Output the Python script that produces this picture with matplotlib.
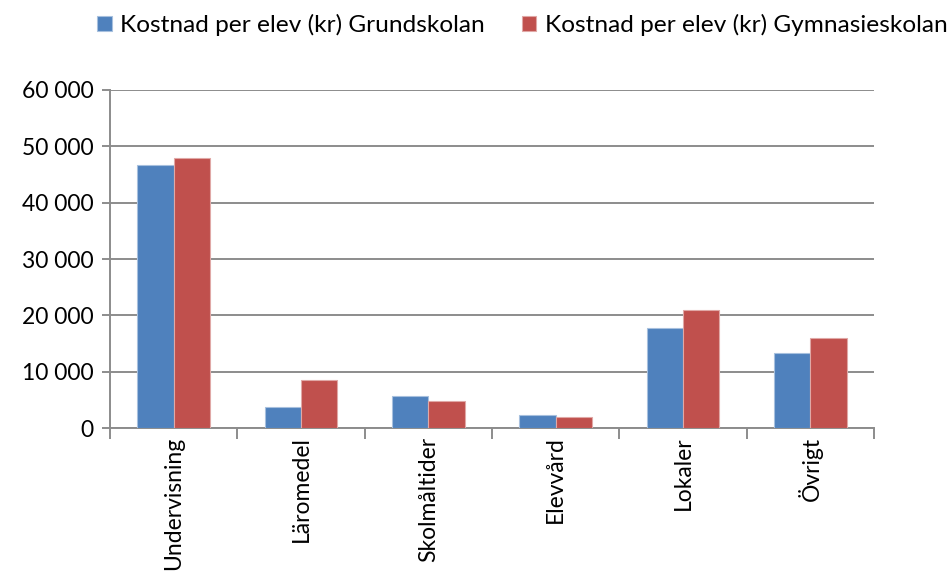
import matplotlib
matplotlib.use("Agg")
import matplotlib.pyplot as plt
import numpy as np
from matplotlib.ticker import FuncFormatter

categories = ["Undervisning", "Läromedel", "Skolmåltider", "Elevvård", "Lokaler", "Övrigt"]
grundskolan = [46600, 3800, 5750, 2300, 17800, 13300]
gymnasieskolan = [47900, 8450, 4800, 1870, 20900, 15900]
series_names = ["Kostnad per elev (kr) Grundskolan", "Kostnad per elev (kr) Gymnasieskolan"]
yticks = [0, 10000, 20000, 30000, 40000, 50000, 60000]

plt.rcParams['font.family'] = ['Lato', 'DejaVu Sans']
fig = plt.figure(figsize=(9.47, 5.84), dpi=100)
ax = fig.add_axes([0.1162, 0.2671, 0.8067, 0.5788])

x = np.arange(len(categories))
w = 0.285
blue = "#4F81BD"
red = "#C0504D"
b1 = ax.bar(x - w/2, grundskolan, w, color=blue, edgecolor="#A7C0DE", linewidth=0.8, zorder=3, label=series_names[0])
b2 = ax.bar(x + w/2, gymnasieskolan, w, color=red, edgecolor="#E0A8A6", linewidth=0.8, zorder=3, label=series_names[1])

ax.set_xlim(-0.5, len(categories) - 0.5)
ax.set_ylim(0, 60000)
ax.set_yticks(yticks)
ax.yaxis.set_major_formatter(FuncFormatter(lambda v, p: f"{int(v):,}".replace(",", " ")))
ax.grid(axis='y', color="#8C8C8C", linewidth=1.4, zorder=0)

for s in ['top', 'right']:
    ax.spines[s].set_visible(False)
for s in ['left', 'bottom']:
    ax.spines[s].set_color("#8C8C8C")
    ax.spines[s].set_linewidth(1.4)

ax.set_xticks(np.arange(len(categories) + 1) - 0.5)
ax.set_xticklabels([])
ax.tick_params(axis='x', length=8, width=1.4, color="#8C8C8C", direction='out')
ax.tick_params(axis='y', length=6, width=1.4, color="#8C8C8C", labelsize=16.5, pad=6)
for lbl in ax.get_yticklabels():
    lbl.set_color("black")

for i, c in enumerate(categories):
    ax.text(i, -1500, c, rotation=90, ha='center', va='top', fontsize=16.5)

leg = fig.legend(handles=[b1, b2], loc='upper left', bbox_to_anchor=(0.1024, 0.976), ncol=2,
                 frameon=False, fontsize=17.6, handlelength=0.6, handleheight=0.6,
                 handletextpad=0.35, columnspacing=1.5, borderpad=0, borderaxespad=0)

fig.savefig("out.png", dpi=100)
